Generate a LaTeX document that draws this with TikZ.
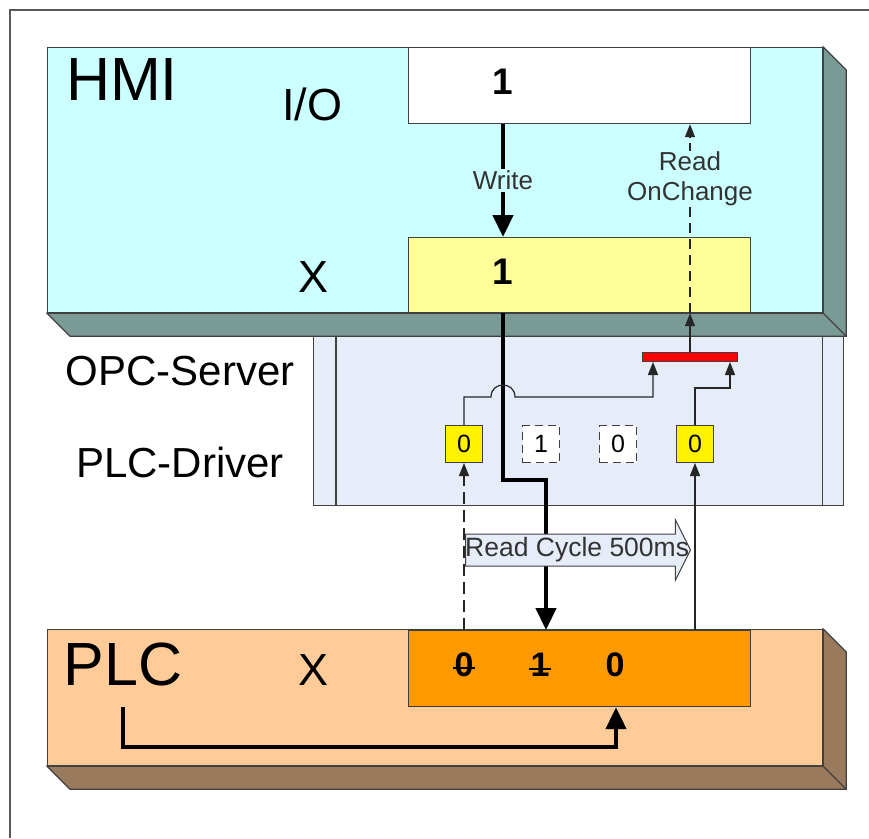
\documentclass[tikz,border=0pt]{standalone}
\usepackage{fontspec}
\setmainfont{Liberation Sans}
\usepackage{xcolor}
\definecolor{hmicyan}{RGB}{204,255,255}
\definecolor{hmiside}{RGB}{122,154,150}
\definecolor{hmiyellow}{RGB}{255,255,153}
\definecolor{opcgray}{RGB}{230,236,248}
\definecolor{plcpeach}{RGB}{255,204,153}
\definecolor{plcside}{RGB}{153,122,92}
\definecolor{plcorange}{RGB}{255,153,0}
\definecolor{edgegray}{RGB}{64,64,64}
\usepackage{tikz}
\usetikzlibrary{shapes.arrows, arrows.meta, positioning, calc}
\tikzset{
  block/.style={
    rectangle, draw=edgegray, line width=1.2pt,
    anchor=north west, inner sep=0pt
  },
  valuebox/.style={
    rectangle, draw=edgegray, line width=1.2pt,
    anchor=north west, inner sep=0pt, minimum width=342pt
  },
  slot/.style={
    rectangle, draw=edgegray, line width=1pt,
    minimum size=37pt, inner sep=0pt, font=\fontsize{25}{25}\selectfont
  },
  blocklabel/.style={font=\fontsize{61}{61}\selectfont},
  fieldlabel/.style={font=\fontsize{45}{45}\selectfont},
  layerlabel/.style={font=\fontsize{42}{42}\selectfont},
  bigdigit/.style={font=\fontsize{37}{37}\selectfont\bfseries},
  celldigit/.style={font=\fontsize{34}{34}\selectfont\bfseries},
  flowlabel/.style={font=\fontsize{26}{30}\selectfont, text=black!80},
  thickarrow/.style={line width=4.5pt, -{Triangle[width=20pt,length=22pt]}},
  thinarrow/.style={line width=1.2pt, black!85, -{Triangle[width=10pt,length=13pt]}},
}

\begin{document}
\begin{tikzpicture}[x=1pt, y=-1pt]
  \useasboundingbox (0,0) rectangle (869,838);
  \draw [gray!70!black, line width=2pt] (10,838) -- (10,10) -- (869,10);

  % OPC server / PLC driver layer
  \node (opc) [block, fill=opcgray, minimum width=530pt, minimum height=172pt] at (313,333) {};
  \draw [edgegray, line width=1.2pt]
    ([xshift=23pt]opc.north west) -- ([xshift=23pt]opc.south west)
    ([xshift=-22pt]opc.north east) -- ([xshift=-22pt]opc.south east);
  \node (opclabel) [layerlabel] at (180,371) {OPC-Server};
  \node (drvlabel) [layerlabel] at (180,462) {PLC-Driver};

  % HMI block
  \node (hmi) [block, fill=hmicyan, minimum width=775pt, minimum height=265pt] at (47,47) {};
  \filldraw [fill=hmiside, draw=edgegray, line width=1.2pt]
    (hmi.north east) -- ++(23,23) -- ($(hmi.south east)+(23,23)$)
    -- ($(hmi.south west)+(23,23)$) -- (hmi.south west) -- (hmi.south east) -- cycle;
  \draw [edgegray, line width=1.2pt] (hmi.south east) -- ++(23,23);
  \node (hmilabel) [blocklabel] at (122,80) {HMI};
  \node (io)       [valuebox, fill=white, minimum height=76pt] at (408,47) {};
  \node (iolabel)  [fieldlabel] at (312,104) {I/O};
  \node (io1)      [bigdigit] at (503,82) {1};
  \node (hx)       [valuebox, fill=hmiyellow, minimum height=75pt] at (408,237) {};
  \node (hxlabel)  [fieldlabel] at (314,277) {X};
  \node (hx1)      [bigdigit] at (503,272) {1};

  % PLC block
  \node (plc) [block, fill=plcpeach, minimum width=775pt, minimum height=136pt] at (47,629) {};
  \filldraw [fill=plcside, draw=edgegray, line width=1.2pt]
    (plc.north east) -- ++(23,23) -- ($(plc.south east)+(23,23)$)
    -- ($(plc.south west)+(23,23)$) -- (plc.south west) -- (plc.south east) -- cycle;
  \draw [edgegray, line width=1.2pt] (plc.south east) -- ++(23,23);
  \node (plclabel)  [blocklabel] at (123,664) {PLC};
  \node (plcx)      [valuebox, fill=plcorange, minimum height=76pt] at (408,630) {};
  \node (plcxlabel) [fieldlabel] at (314,670) {X};
  \node (p0) [celldigit] at (464,665) {0};
  \node (p1) [celldigit] at (540,665) {1};
  \node (p2) [celldigit] at (615,665) {0};
  \draw [line width=1.2pt] ([xshift=-11pt,yshift=-3pt]p0.center) -- ([xshift=11pt,yshift=-3pt]p0.center);
  \draw [line width=1.2pt] ([xshift=-11pt,yshift=-4pt]p1.center) -- ([xshift=11pt,yshift=-4pt]p1.center);

  % driver cells and server bar
  \node (d0) [slot, fill=yellow] at (464,444) {0};
  \node (d1) [slot, dashed, dash pattern=on 8pt off 5pt, fill=white, right=39pt of d0] {1};
  \node (d2) [slot, dashed, dash pattern=on 8pt off 5pt, fill=white, right=39pt of d1] {0};
  \node (d3) [slot, fill=yellow, right=39pt of d2] {0};
  \node (bar) [rectangle, draw=edgegray, fill=red, line width=1pt,
               minimum width=95pt, minimum height=9pt, inner sep=0pt] at (690,357) {};

  % write path
  \coordinate (hop)  at (503,397);
  \coordinate (drop) at (546,480);
  \coordinate (back) at (616,747);
  \draw [thickarrow] (io1 |- io.south) -- node [flowlabel, fill=hmicyan, inner sep=2pt] {Write} (io1 |- hx.north);
  \draw [thickarrow] (hx1 |- hx.south) |- (drop) -- (drop |- plcx.north);
  \draw [thickarrow] (plclabel |- plcx.south) |- (back) -- (back |- plcx.south);

  % read cycle
  \node (cycle) [single arrow, draw=edgegray, fill=opcgray, line width=1pt, anchor=tail,
                 minimum height=225pt, inner sep=0pt, inner ysep=15.5pt,
                 single arrow head extend=14.5pt, single arrow tip angle=127,
                 single arrow head indent=0pt] at (465,550) {};
  \node (cyclelabel) [flowlabel, anchor=west, inner sep=0pt, font=\fontsize{26.5}{28}\selectfont] at (cycle.tail) {Read Cycle 500ms};

  % read paths
  \draw [thinarrow] (bar.north) -- (bar |- hmi.south);
  \draw [thinarrow, dash pattern=on 10pt off 6pt] (bar |- hmi.south) --
    node [pos=0.71, flowlabel, fill=hmicyan, align=center, inner sep=1pt] {Read\\OnChange} (bar |- io.south);
  \draw [thinarrow] (d0.north) |- ([xshift=-12pt]hop)
    .. controls +(0,-16) and +(0,-16) .. ([xshift=12pt]hop) -| ([xshift=-37pt]bar.south);
  \draw [thinarrow] (d3.north) -- ++(0,-37) -| ([xshift=40pt]bar.south);
  \draw [thinarrow, dash pattern=on 12pt off 6pt] (d0 |- plcx.north) -- (d0.south);
  \draw [thinarrow] (d3 |- plcx.north) -- (d3.south);
\end{tikzpicture}
\end{document}
